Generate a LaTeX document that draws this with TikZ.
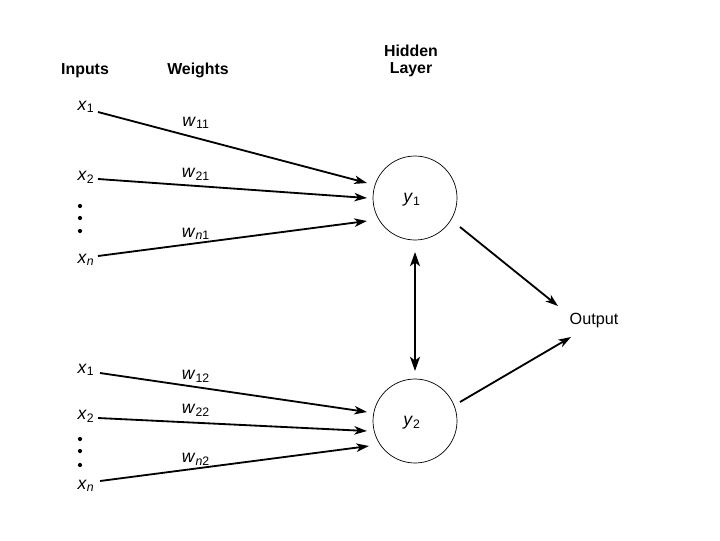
\documentclass[tikz,border=0pt]{standalone}
\usepackage{fontspec}
\setmainfont{Liberation Sans}
\usetikzlibrary{arrows.meta}
\begin{document}
\begin{tikzpicture}[x=0.025cm,y=-0.025cm,
  lbl/.style={inner sep=1pt,font=\fontsize{12.5}{14}\selectfont},
  olbl/.style={inner sep=1pt,font=\fontsize{11.5}{13}\selectfont},
  hdr/.style={inner sep=0pt,font=\fontsize{11.3}{12.5}\selectfont\bfseries,align=center},
  wire/.style={line width=1.3pt,-{Stealth[length=9pt,width=6pt,inset=2.5pt]}},
  neuron/.style={circle,draw,line width=0.5pt,minimum size=84*0.025cm,inner sep=0pt},
  dot/.style={circle,fill,inner sep=0pt,minimum size=3pt}]
\useasboundingbox (0,0) rectangle (720,540);
% headers
\node[hdr,anchor=base] (hin) at (85,74) {Inputs};
\node[hdr,anchor=base] (hw) at (198,74) {Weights};
\node[hdr] (hh) at (411,61) {Hidden\\Layer};
% neurons
\node[neuron] (y1) at (415,198) {};
\node[lbl] (y1l) at (412,200) {\textit{y}\textsubscript{1}};
\node[neuron] (y2) at (415,421) {};
\node[lbl] (y2l) at (412,423) {\textit{y}\textsubscript{2}};
\node[olbl] (out) at (594,321) {Output};
% upper inputs
\node[lbl] (a1) at (86,107) {\textit{x}\textsubscript{1}};
\node[lbl] (a2) at (86,177) {\textit{x}\textsubscript{2}};
\node[lbl] (an) at (86,260) {\textit{x}\textsubscript{\textit{n}}};
\node[dot] (ad1) at (80,206) {};
\node[dot] (ad2) at (80,218) {};
\node[dot] (ad3) at (80,231) {};
\coordinate (a1s) at (98,112); \coordinate (a1e) at (367,183);
\coordinate (a2s) at (98,179); \coordinate (a2e) at (367,198);
\coordinate (ans) at (98,256); \coordinate (ane) at (367,221);
\draw[wire] (a1s) -- (a1e);
\draw[wire] (a2s) -- (a2e);
\draw[wire] (ans) -- (ane);
\node[lbl] (w11) at (196,123) {\textit{w}\textsubscript{11}};
\node[lbl] (w21) at (196,174) {\textit{w}\textsubscript{21}};
\node[lbl] (wn1) at (196,234) {\textit{w}\textsubscript{\textit{n}1}};
% lower inputs
\node[lbl] (b1) at (86,370) {\textit{x}\textsubscript{1}};
\node[lbl] (b2) at (86,416) {\textit{x}\textsubscript{2}};
\node[lbl] (bn) at (86,486) {\textit{x}\textsubscript{\textit{n}}};
\node[dot] (bd1) at (80,439) {};
\node[dot] (bd2) at (80,451) {};
\node[dot] (bd3) at (80,465) {};
\coordinate (b1s) at (100,373); \coordinate (b1e) at (367,412);
\coordinate (b2s) at (98,418); \coordinate (b2e) at (367,431);
\coordinate (bns) at (100,481); \coordinate (bne) at (369,446);
\draw[wire] (b1s) -- (b1e);
\draw[wire] (b2s) -- (b2e);
\draw[wire] (bns) -- (bne);
\node[lbl] (w12) at (196,376) {\textit{w}\textsubscript{12}};
\node[lbl] (w22) at (196,410) {\textit{w}\textsubscript{22}};
\node[lbl] (wn2) at (196,459) {\textit{w}\textsubscript{\textit{n}2}};
% hidden connections
\coordinate (c1) at (415,252); \coordinate (c2) at (415,371);
\draw[line width=1.7pt,{Stealth[length=10pt,width=7pt,inset=2.5pt]}-{Stealth[length=10pt,width=7pt,inset=2.5pt]}] (c1) -- (c2);
\coordinate (o1s) at (460,227); \coordinate (o1e) at (558,306);
\coordinate (o2s) at (460,402); \coordinate (o2e) at (571,337);
\draw[wire] (o1s) -- (o1e);
\draw[wire] (o2s) -- (o2e);
\end{tikzpicture}
\end{document}
